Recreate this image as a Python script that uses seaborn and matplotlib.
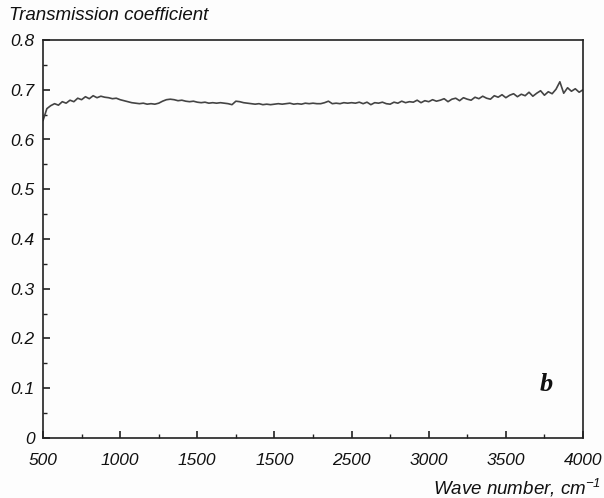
import numpy as np
import pandas as pd
import matplotlib
matplotlib.use("Agg")
import matplotlib.pyplot as plt
from matplotlib.ticker import MultipleLocator, FixedLocator, FixedFormatter
import seaborn as sns

# ---- data ----
wn_start = 500
wn_step = 25
transmission = [
    0.638, 0.662, 0.668, 0.672, 0.669, 0.676, 0.673, 0.679, 0.676, 0.683,   # 500-725
    0.680, 0.686, 0.682, 0.688, 0.684, 0.687, 0.685, 0.684, 0.682, 0.683,   # 750-975
    0.680, 0.678, 0.676, 0.674, 0.673, 0.672, 0.673, 0.671, 0.672, 0.671,   # 1000-1225
    0.673, 0.677, 0.680, 0.681, 0.680, 0.678, 0.679, 0.677, 0.676, 0.677,   # 1250-1475
    0.675, 0.674, 0.675, 0.673, 0.674, 0.673, 0.674, 0.673, 0.672, 0.670,   # 1500-1725
    0.677, 0.676, 0.674, 0.673, 0.672, 0.671, 0.672, 0.670, 0.671, 0.670,   # 1750-1975
    0.671, 0.672, 0.671, 0.672, 0.673, 0.671, 0.672, 0.671, 0.673, 0.672,   # 2000-2225
    0.673, 0.672, 0.672, 0.674, 0.677, 0.672, 0.673, 0.672, 0.674, 0.673,   # 2250-2475
    0.674, 0.673, 0.675, 0.672, 0.675, 0.670, 0.674, 0.673, 0.675, 0.672,   # 2500-2725
    0.671, 0.675, 0.673, 0.677, 0.674, 0.676, 0.675, 0.679, 0.674, 0.678,   # 2750-2975
    0.676, 0.680, 0.677, 0.679, 0.682, 0.676, 0.681, 0.683, 0.678, 0.684,   # 3000-3225
    0.681, 0.679, 0.685, 0.682, 0.687, 0.683, 0.681, 0.688, 0.685, 0.690,   # 3250-3475
    0.684, 0.689, 0.692, 0.686, 0.691, 0.688, 0.695, 0.687, 0.693, 0.698,   # 3500-3725
    0.689, 0.696, 0.692, 0.701, 0.716, 0.693, 0.704, 0.697, 0.702, 0.695,   # 3750-3975
    0.700,                                                                  # 4000
]
wavenumber = wn_start + wn_step * np.arange(len(transmission))

x_ticks = [500, 1000, 1500, 2000, 2500, 3000, 3500, 4000]
x_tick_labels = ["500", "1000", "1500", "1500", "2500", "3000", "3500", "4000"]
y_ticks = [0, 0.1, 0.2, 0.3, 0.4, 0.5, 0.6, 0.7, 0.8]
y_tick_labels = ["0", "0.1", "0.2", "0.3", "0.4", "0.5", "0.6", "0.7", "0.8"]

df = pd.DataFrame({"wavenumber": wavenumber, "T": transmission})

# ---- style ----
sns.set_theme(style="ticks")
plt.rcParams["font.family"] = ["Liberation Sans", "DejaVu Sans"]
plt.rcParams["mathtext.fontset"] = "custom"
plt.rcParams["mathtext.it"] = "Liberation Sans:italic"
plt.rcParams["mathtext.rm"] = "Liberation Sans:italic"

fig = plt.figure(figsize=(6.04, 4.98), dpi=100)
fig.patch.set_facecolor("#fdfdfd")
ax = fig.add_axes([43 / 604, 1 - 438 / 498, 540 / 604, 398 / 498])
ax.set_facecolor("#fdfdfd")

sns.lineplot(data=df, x="wavenumber", y="T", ax=ax, color="#444444",
             linewidth=1.2, estimator=None)

ax.set_xlim(500, 4000)
ax.set_ylim(0, 0.8)

ax.xaxis.set_major_locator(FixedLocator(x_ticks))
ax.xaxis.set_major_formatter(FixedFormatter(x_tick_labels))
ax.xaxis.set_minor_locator(MultipleLocator(250))
ax.yaxis.set_major_locator(FixedLocator(y_ticks))
ax.yaxis.set_major_formatter(FixedFormatter(y_tick_labels))
ax.yaxis.set_minor_locator(MultipleLocator(0.05))

ax.tick_params(axis="both", which="major", direction="in", length=5, width=1.2,
               color="#222222", labelsize=12.5, labelcolor="#111111")
ax.tick_params(axis="both", which="minor", direction="in", length=3, width=1.0,
               color="#222222")
ax.tick_params(axis="x", which="major", pad=11)
ax.tick_params(axis="y", which="major", pad=6)
for lbl in ax.get_xticklabels() + ax.get_yticklabels():
    lbl.set_fontstyle("italic")

for sp in ax.spines.values():
    sp.set_visible(True)
    sp.set_linewidth(1.2)
    sp.set_color("#222222")

ax.set_xlabel("")
ax.set_ylabel("")

fig.text(9 / 604, 1 - 16 / 498, "Transmission coefficient", fontsize=13.5,
         fontstyle="italic", color="#111111", ha="left", va="center")
fig.text(601 / 604, 1 - 488 / 498, r"Wave number, cm$^{-1}$", fontsize=13.5,
         fontstyle="italic", color="#111111", ha="right", va="center")
ax.text(3765, 0.107, "b", fontsize=19, fontweight="bold", fontstyle="italic",
        family=["Liberation Serif", "DejaVu Serif"], color="#111111",
        ha="center", va="center")

fig.savefig("out.png", dpi=100, facecolor=fig.get_facecolor())
